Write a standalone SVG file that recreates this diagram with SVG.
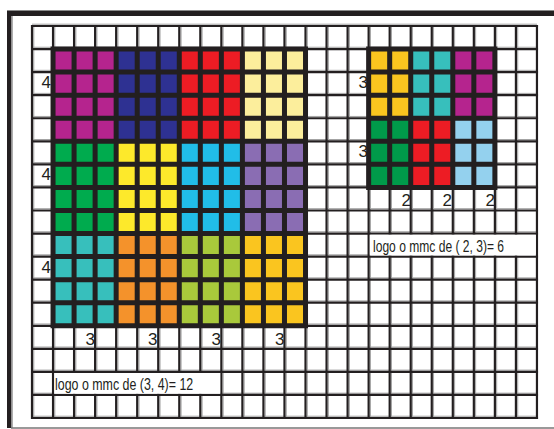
<svg xmlns="http://www.w3.org/2000/svg" width="554" height="429" viewBox="0 0 554 429">
<style>
.grid{stroke:#231f20;stroke-width:2.2;fill:none}
.shadow{stroke:#a3a3a3;stroke-width:1;fill:none}
.blk{stroke:#231f20;stroke-width:5;fill:none}
.t{font-family:"Liberation Sans",Arial,sans-serif;font-size:17px;fill:#231f20}
.n{font-family:"Liberation Sans",Arial,sans-serif;font-size:17px;fill:#231f20;text-anchor:end}
</style>
<rect width="554" height="429" fill="#ffffff"/>
<g id="frame">
<line x1="7" y1="10.5" x2="554" y2="10.5" stroke="#8a8a8a" stroke-width="1"/>
<rect x="7" y="11" width="547" height="5" fill="#231f20"/>
<rect x="7" y="11" width="4.5" height="417" fill="#231f20"/>
<line x1="12.2" y1="16" x2="12.2" y2="428" stroke="#9a9a9a" stroke-width="1.2"/>
<line x1="11" y1="428" x2="554" y2="428" stroke="#777777" stroke-width="1.6"/>
</g>
<g id="grid">
<path class="shadow" d="M33.8 26V418M54.84 26V418M75.88 26V418M96.92 26V418M117.96 26V418M139 26V418M160.04 26V418M181.08 26V418M202.12 26V418M223.16 26V418M244.2 26V418M265.24 26V418M286.28 26V418M307.32 26V418M328.36 26V418M349.4 26V418M370.44 26V418M391.48 26V418M412.52 26V418M433.56 26V418M454.6 26V418M475.64 26V418M496.68 26V418M517.72 26V418M32 24.2H537M32 47.26H537M32 70.32H537M32 93.38H537M32 116.44H537M32 139.5H537M32 162.56H537M32 185.62H537M32 208.68H537M32 231.74H537M32 254.8H537M32 277.86H537M32 300.92H537M32 323.98H537M32 347.04H537M32 370.1H537M32 393.16H537M32 416.22H537"/>
<path class="grid" d="M32 26V418M53.04 26V418M74.08 26V418M95.12 26V418M116.16 26V418M137.2 26V418M158.24 26V418M179.28 26V418M200.32 26V418M221.36 26V418M242.4 26V418M263.44 26V418M284.48 26V418M305.52 26V418M326.56 26V418M347.6 26V418M368.64 26V418M389.68 26V418M410.72 26V418M431.76 26V418M452.8 26V418M473.84 26V418M494.88 26V418M515.92 26V418M536.96 26V418M30.9 26H538.1M30.9 49.06H538.1M30.9 72.12H538.1M30.9 95.18H538.1M30.9 118.24H538.1M30.9 141.3H538.1M30.9 164.36H538.1M30.9 187.42H538.1M30.9 210.48H538.1M30.9 233.54H538.1M30.9 256.6H538.1M30.9 279.66H538.1M30.9 302.72H538.1M30.9 325.78H538.1M30.9 348.84H538.1M30.9 371.9H538.1M30.9 394.96H538.1M30.9 418.02H538.1"/>
</g>
<g id="labels">
<text class="n" x="51" y="87.5">4</text>
<text class="n" x="51" y="180">4</text>
<text class="n" x="51" y="272.5">4</text>
<text class="n" x="368" y="88">3</text>
<text class="n" x="368" y="157">3</text>
<text class="n" x="95" y="345.3">3</text>
<text class="n" x="157.5" y="345.3">3</text>
<text class="n" x="221" y="345.3">3</text>
<text class="n" x="284.5" y="345.3">3</text>
<text class="n" x="411" y="205.5">2</text>
<text class="n" x="452" y="205.5">2</text>
<text class="n" x="495" y="205.5">2</text>
</g>
<g id="big-block">
<rect x="53.04" y="49.06" width="63.12" height="92.24" fill="#b5248e"/>
<rect x="116.16" y="49.06" width="63.12" height="92.24" fill="#2e3192"/>
<rect x="179.28" y="49.06" width="63.12" height="92.24" fill="#ed1c24"/>
<rect x="242.4" y="49.06" width="63.12" height="92.24" fill="#fcee9c"/>
<rect x="53.04" y="141.3" width="63.12" height="92.24" fill="#00ab4e"/>
<rect x="116.16" y="141.3" width="63.12" height="92.24" fill="#fde92b"/>
<rect x="179.28" y="141.3" width="63.12" height="92.24" fill="#21bde8"/>
<rect x="242.4" y="141.3" width="63.12" height="92.24" fill="#8a6db3"/>
<rect x="53.04" y="233.54" width="63.12" height="92.24" fill="#37bfbc"/>
<rect x="116.16" y="233.54" width="63.12" height="92.24" fill="#f4922b"/>
<rect x="179.28" y="233.54" width="63.12" height="92.24" fill="#a9c93b"/>
<rect x="242.4" y="233.54" width="63.12" height="92.24" fill="#fac51f"/>
<path class="blk" d="M53.04 46.56V328.28M74.08 46.56V328.28M95.12 46.56V328.28M116.16 46.56V328.28M137.2 46.56V328.28M158.24 46.56V328.28M179.28 46.56V328.28M200.32 46.56V328.28M221.36 46.56V328.28M242.4 46.56V328.28M263.44 46.56V328.28M284.48 46.56V328.28M305.52 46.56V328.28M50.54 49.06H308.02M50.54 72.12H308.02M50.54 95.18H308.02M50.54 118.24H308.02M50.54 141.3H308.02M50.54 164.36H308.02M50.54 187.42H308.02M50.54 210.48H308.02M50.54 233.54H308.02M50.54 256.6H308.02M50.54 279.66H308.02M50.54 302.72H308.02M50.54 325.78H308.02"/>
</g>
<g id="small-block">
<rect x="368.64" y="49.06" width="42.08" height="69.18" fill="#fac51f"/>
<rect x="410.72" y="49.06" width="42.08" height="69.18" fill="#37bfbc"/>
<rect x="452.8" y="49.06" width="42.08" height="69.18" fill="#b5248e"/>
<rect x="368.64" y="118.24" width="42.08" height="69.18" fill="#009a4a"/>
<rect x="410.72" y="118.24" width="42.08" height="69.18" fill="#ed1c24"/>
<rect x="452.8" y="118.24" width="42.08" height="69.18" fill="#94d1ee"/>
<path class="blk" d="M368.64 46.56V189.92M389.68 46.56V189.92M410.72 46.56V189.92M431.76 46.56V189.92M452.8 46.56V189.92M473.84 46.56V189.92M494.88 46.56V189.92M366.14 49.06H497.38M366.14 72.12H497.38M366.14 95.18H497.38M366.14 118.24H497.38M366.14 141.3H497.38M366.14 164.36H497.38M366.14 187.42H497.38"/>
</g>
<g id="caption-big">
<rect x="54.2" y="373" width="166" height="20.8" fill="#ffffff"/>
<text class="t" transform="translate(55,389.8) scale(0.73,1)">logo o mmc de (3, 4)= 12</text>
</g>
<g id="caption-small">
<rect x="369.8" y="234.7" width="166" height="20.8" fill="#ffffff"/>
<text class="t" transform="translate(373,251.8) scale(0.71,1)">logo o mmc de ( 2, 3)= 6</text>
</g>
</svg>
